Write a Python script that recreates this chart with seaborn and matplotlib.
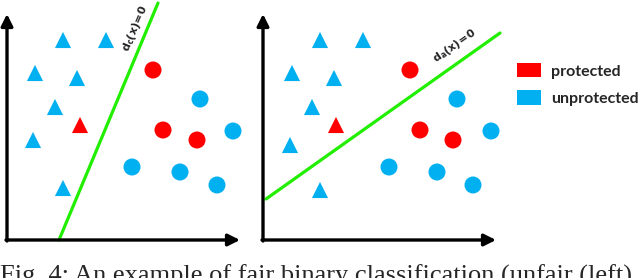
import matplotlib
matplotlib.use("Agg")
import matplotlib.pyplot as plt
import seaborn as sns
import pandas as pd
from matplotlib.patches import Patch

sns.set_style("white")
plt.rcParams["font.family"] = ["DejaVu Sans"]

# ---- data (panel units: pixels from the axis origin) ----
tri_x = [56, 99, 28, 70, 48, 26, 56, 73]
tri_y = [200, 200, 167, 162, 133, 100, 52, 115]
tri_group = ["unprotected"] * 7 + ["protected"]

circ_x = [146, 156, 190, 193, 226, 125, 173, 210]
circ_y = [170, 110, 100, 141, 109, 73, 68, 55]
circ_group = ["protected"] * 3 + ["unprotected"] * 5

tri_x_r = [57, 100, 29, 71, 49, 27, 57, 73]
tri_y_r = [200, 200, 167, 162, 133, 95, 50, 115]
circ_x_r = [147, 157, 190, 194, 228, 126, 174, 210]
circ_y_r = [170, 110, 100, 141, 109, 73, 68, 55]

line_left_x = [52, 151]
line_left_y = [0, 237]
line_right_x = [3, 237]
line_right_y = [41, 207]

legend_labels = ["protected", "unprotected"]
caption = "Fig. 4: An example of fair binary classification (unfair (left)"

RED = "#FF0000"
BLUE = "#00B0F0"
GREEN = "#22EE00"
palette = {"protected": RED, "unprotected": BLUE}

W, H = 640, 278
fig = plt.figure(figsize=(W / 100, H / 100), dpi=100)

AX_W, AX_H = 233, 226


def panel(left_px, tx, ty, cx, cy, lx, ly, label, label_xy, angle):
    ax = fig.add_axes([left_px / W, (H - 240) / H, AX_W / W, AX_H / H])
    ax.set_xlim(0, AX_W)
    ax.set_ylim(0, AX_H)
    ax.axis("off")
    df_t = pd.DataFrame({"x": tx, "y": ty, "g": tri_group})
    df_c = pd.DataFrame({"x": cx, "y": cy, "g": circ_group})
    sns.lineplot(x=lx, y=ly, ax=ax, color=GREEN, lw=2.3, sort=False,
                 clip_on=False, zorder=2)
    sns.scatterplot(data=df_t, x="x", y="y", hue="g", palette=palette,
                    marker="^", s=135, linewidth=0, ax=ax, legend=False,
                    zorder=3, clip_on=False)
    sns.scatterplot(data=df_c, x="x", y="y", hue="g", palette=palette,
                    marker="o", s=150, linewidth=0, ax=ax, legend=False,
                    zorder=3, clip_on=False)
    arrow = dict(arrowstyle="-|>,head_length=0.7,head_width=0.35",
                 color="black", lw=2.4, shrinkA=0, shrinkB=0)
    ax.annotate("", xy=(AX_W, 0), xytext=(-1, 0), arrowprops=arrow,
                annotation_clip=False)
    ax.annotate("", xy=(0, AX_H), xytext=(0, -1), arrowprops=arrow,
                annotation_clip=False)
    ax.text(label_xy[0], label_xy[1], label, rotation=angle,
            rotation_mode="anchor", ha="center", va="center",
            fontsize=8, fontweight="bold", clip_on=False)
    return ax


panel(7, tri_x, tri_y, circ_x, circ_y, line_left_x, line_left_y,
      r"$\mathbf{d_c(x)\!=\!0}$", (128, 212), 67)
panel(263, tri_x_r, tri_y_r, circ_x_r, circ_y_r, line_right_x, line_right_y,
      r"$\mathbf{d_a(x)\!=\!0}$", (192, 194), 35)

handles = [Patch(facecolor=palette[l], edgecolor="none") for l in legend_labels]
fig.legend(handles, legend_labels, loc="center left",
           bbox_to_anchor=(510.6 / W, (H - 84.5) / H), frameon=False,
           borderaxespad=0, borderpad=0.4,
           handlelength=1.5, handleheight=1.0, handletextpad=0.63,
           labelspacing=0.75, prop={"family": "Lato", "size": 11.5,
                                    "weight": "bold"})

fig.text(0.0, -0.016, caption, family="Liberation Serif", fontsize=19,
         ha="left", va="baseline")

fig.savefig("out.png", dpi=100)
